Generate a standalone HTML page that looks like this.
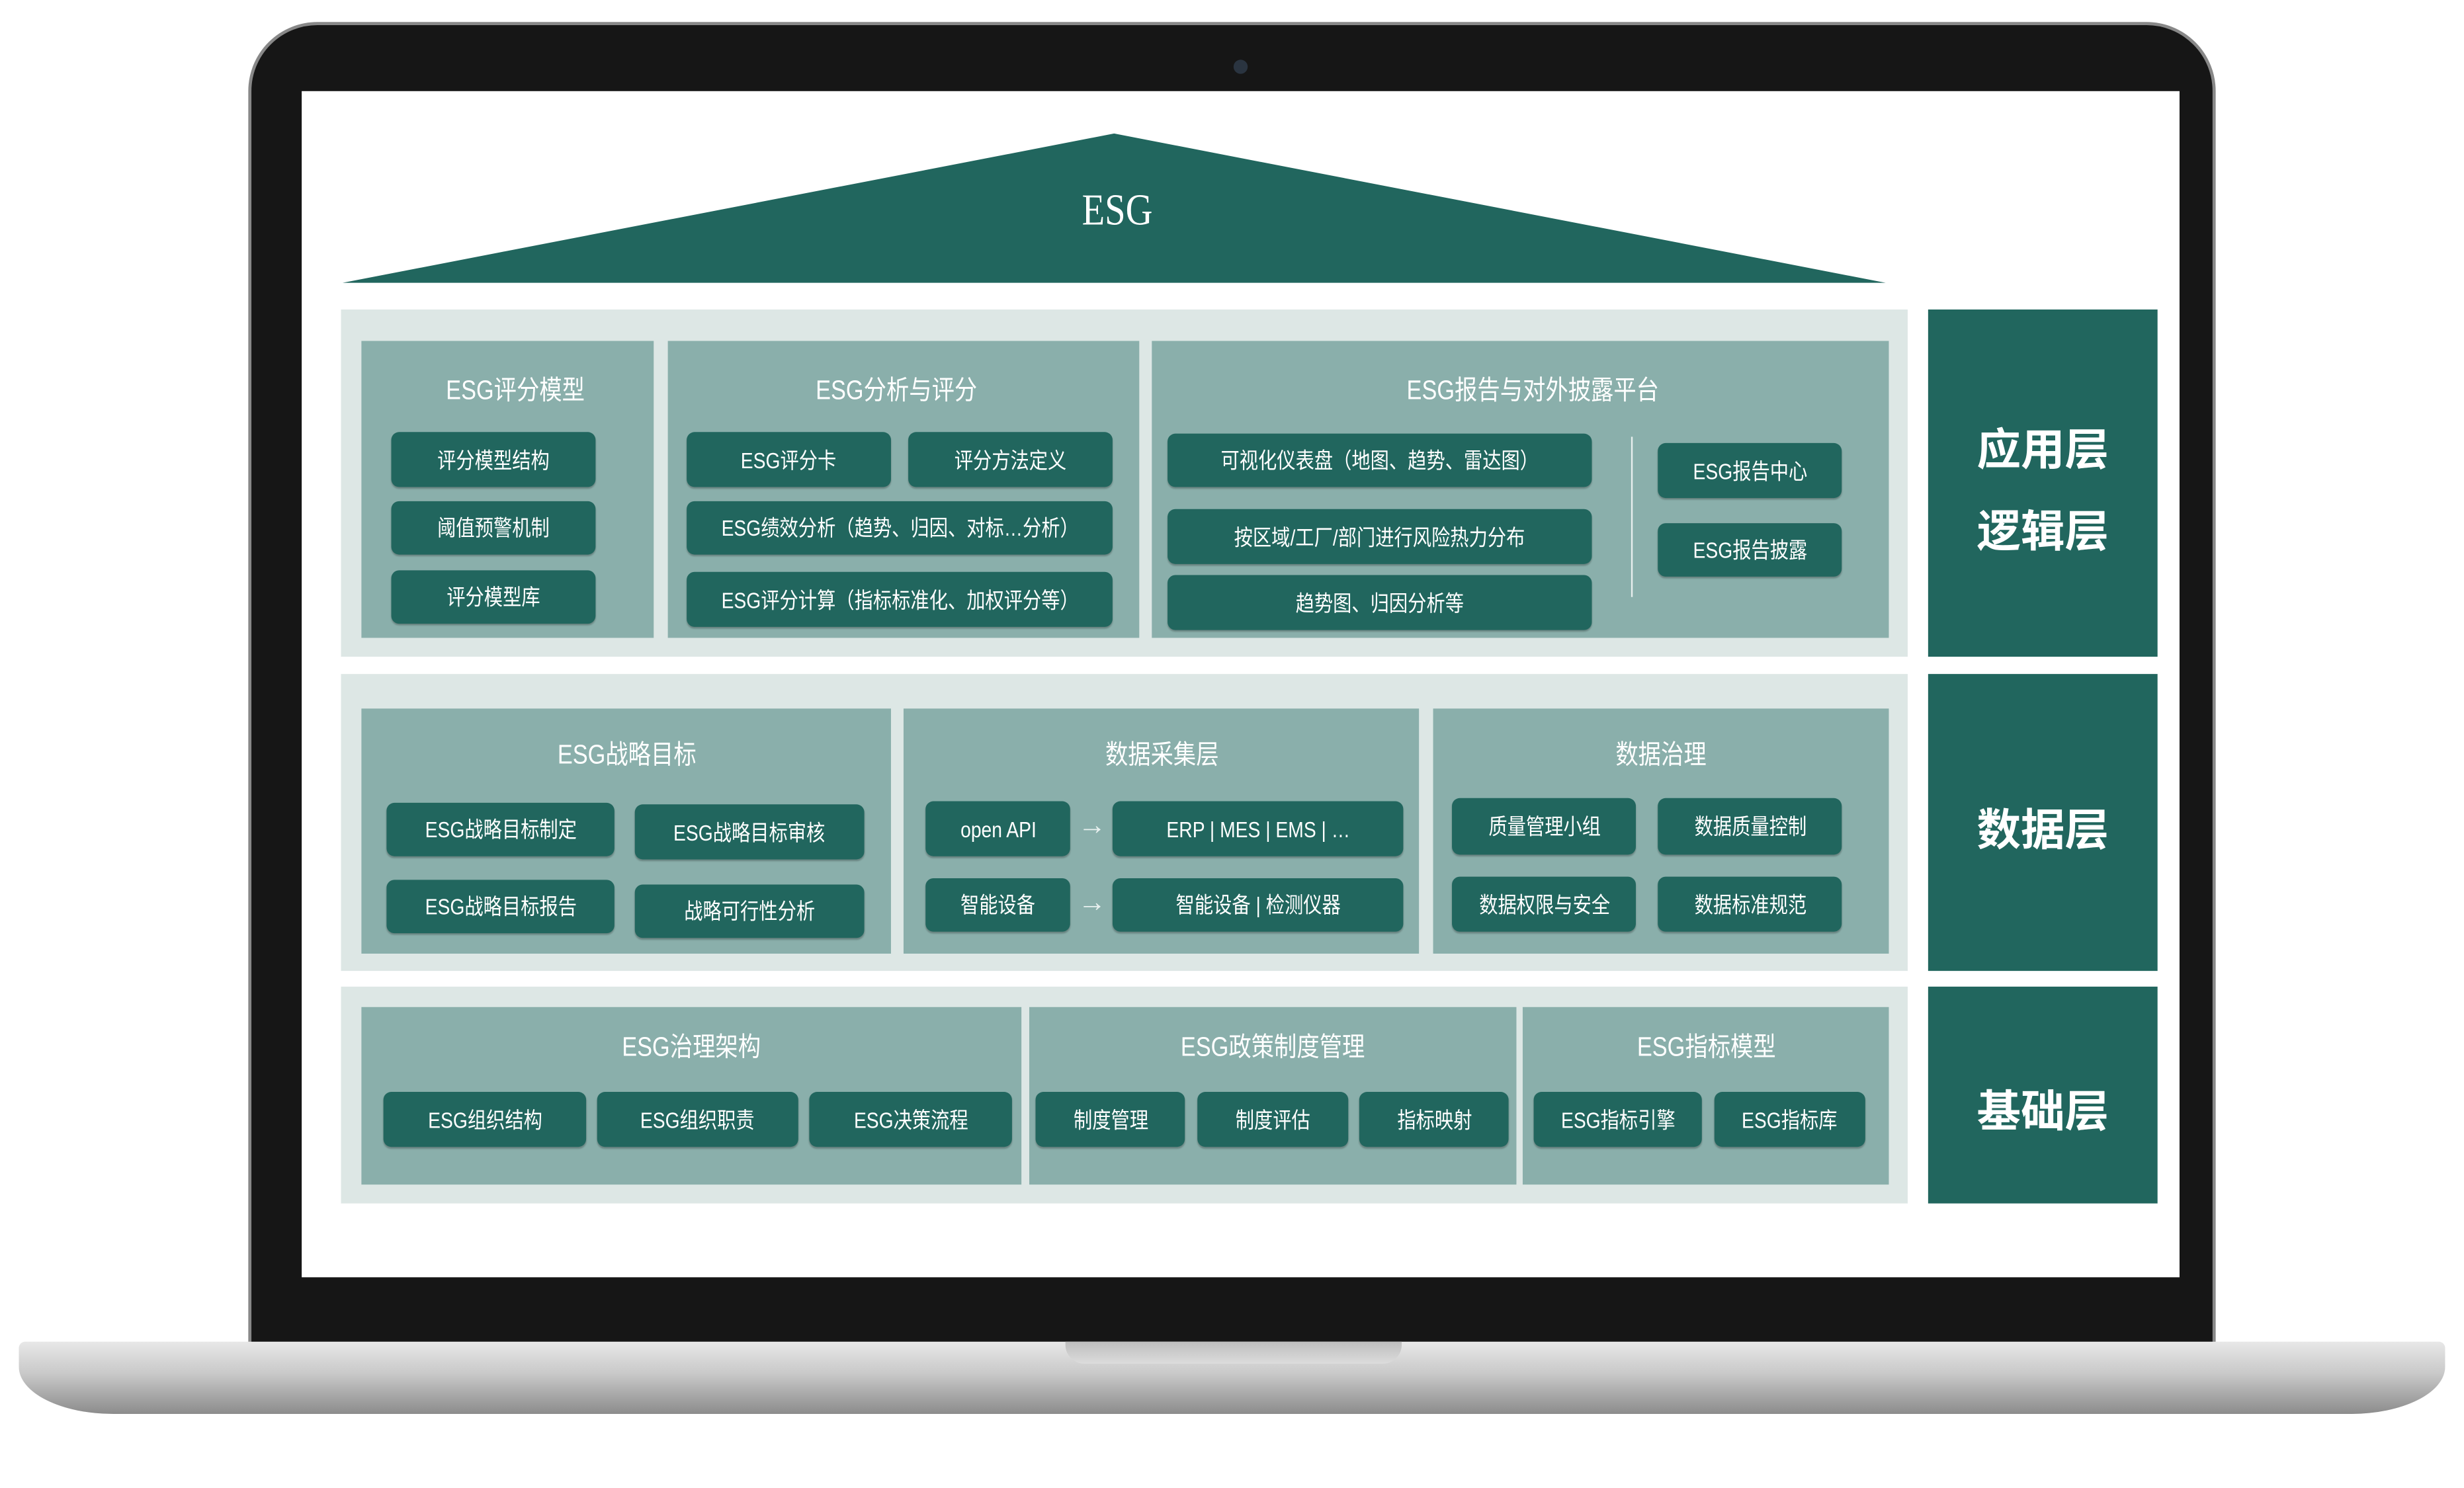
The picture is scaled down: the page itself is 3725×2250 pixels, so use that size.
<!DOCTYPE html>
<html><head><meta charset="utf-8"><style>
html,body{margin:0;padding:0;background:#fff;}
body{width:3725px;height:2250px;overflow:hidden;position:relative;}
#s{position:absolute;left:0;top:0;width:1568px;height:947px;transform:scale(2.3756);transform-origin:0 0;font-family:"Liberation Sans","Noto Sans CJK SC",sans-serif;}
.a{position:absolute;}
.lt{background:#dde7e5;}
.md{background:#8aafab;}
.b{position:absolute;background:#21665e;color:#fff;border-radius:5px;font-size:14px;display:flex;align-items:center;justify-content:center;white-space:nowrap;box-shadow:0 1px 1px rgba(0,0,0,.25);}
.b span,.t span{display:inline-block;transform:scaleX(.85);}
.t{position:absolute;color:#fff;font-size:17px;text-align:center;white-space:nowrap;}
.L{position:absolute;background:#21665e;color:#fff;font-weight:bold;font-size:28px;text-align:center;}
.ar{position:absolute;color:#e8f0ef;font-size:18px;}
</style></head><body><div id="s">
<!-- laptop -->
<div class="a" style="left:158px;top:14px;width:1252px;height:850px;background:#161616;border-radius:44px 44px 0 0;border:2px solid #888;box-sizing:border-box;"></div>
<div class="a" style="left:785px;top:38px;width:9px;height:9px;border-radius:50%;background:#2a3440;"></div>
<div class="a" style="left:12px;top:854px;width:1544px;height:46px;background:linear-gradient(#e8e8e8,#c8c8c8 45%,#8c8c8c);border-radius:4px 4px 60px 60px/4px 4px 30px 30px;"></div>
<div class="a" style="left:678px;top:854px;width:214px;height:14px;background:linear-gradient(#bdbdbd,#dcdcdc);border-radius:0 0 12px 12px;"></div>
<div class="a" style="left:192px;top:58px;width:1195px;height:755px;background:#fff;"></div>
<!-- roof -->
<svg class="a" style="left:0;top:0" width="1568" height="947"><polygon points="709,85 218,180 1200,180" fill="#21665e"/><text x="711" y="143" fill="#fff" font-family="Liberation Serif,serif" font-size="28" text-anchor="middle" transform="translate(711 0) scale(0.85 1) translate(-711 0)">ESG</text></svg>
<!-- row1 -->
<div class="a lt" style="left:217px;top:197px;width:997px;height:221px;"></div>
<div class="a md" style="left:230px;top:217px;width:186px;height:189px;"></div>
<div class="a md" style="left:425px;top:217px;width:300px;height:189px;"></div>
<div class="a md" style="left:733px;top:217px;width:469px;height:189px;"></div>
<div class="t" style="left:230px;width:196px;top:234px;"><span>ESG评分模型</span></div>
<div class="t" style="left:425px;width:290px;top:234px;"><span>ESG分析与评分</span></div>
<div class="t" style="left:733px;width:484px;top:234px;"><span>ESG报告与对外披露平台</span></div>
<div class="b" style="left:249px;top:275px;width:130px;height:35px;"><span>评分模型结构</span></div>
<div class="b" style="left:249px;top:319px;width:130px;height:34px;"><span>阈值预警机制</span></div>
<div class="b" style="left:249px;top:363px;width:130px;height:34px;"><span>评分模型库</span></div>
<div class="b" style="left:437px;top:275px;width:130px;height:35px;"><span>ESG评分卡</span></div>
<div class="b" style="left:578px;top:275px;width:130px;height:35px;"><span>评分方法定义</span></div>
<div class="b" style="left:437px;top:319px;width:271px;height:34px;"><span>ESG绩效分析（趋势、归因、对标…分析）</span></div>
<div class="b" style="left:437px;top:364px;width:271px;height:35px;"><span>ESG评分计算（指标标准化、加权评分等）</span></div>
<div class="b" style="left:743px;top:276px;width:270px;height:34px;"><span>可视化仪表盘（地图、趋势、雷达图）</span></div>
<div class="b" style="left:743px;top:324px;width:270px;height:35px;"><span>按区域/工厂/部门进行风险热力分布</span></div>
<div class="b" style="left:743px;top:366px;width:270px;height:35px;"><span>趋势图、归因分析等</span></div>
<div class="a" style="left:1038px;top:278px;width:1px;height:102px;background:#e8efee;"></div>
<div class="b" style="left:1055px;top:282px;width:117px;height:35px;"><span>ESG报告中心</span></div>
<div class="b" style="left:1055px;top:333px;width:117px;height:34px;"><span>ESG报告披露</span></div>
<div class="L" style="left:1227px;top:197px;width:146px;height:221px;"><div style="position:absolute;top:68px;width:100%;">应用层</div><div style="position:absolute;top:120px;width:100%;">逻辑层</div></div>
<!-- row2 -->
<div class="a lt" style="left:217px;top:429px;width:997px;height:189px;"></div>
<div class="a md" style="left:230px;top:451px;width:337px;height:156px;"></div>
<div class="a md" style="left:575px;top:451px;width:328px;height:156px;"></div>
<div class="a md" style="left:912px;top:451px;width:290px;height:156px;"></div>
<div class="t" style="left:230px;width:337px;top:466px;"><span>ESG战略目标</span></div>
<div class="t" style="left:575px;width:328px;top:466px;"><span>数据采集层</span></div>
<div class="t" style="left:912px;width:290px;top:466px;"><span>数据治理</span></div>
<div class="b" style="left:246px;top:511px;width:145px;height:34px;"><span>ESG战略目标制定</span></div>
<div class="b" style="left:404px;top:512px;width:146px;height:35px;"><span>ESG战略目标审核</span></div>
<div class="b" style="left:246px;top:560px;width:145px;height:34px;"><span>ESG战略目标报告</span></div>
<div class="b" style="left:404px;top:563px;width:146px;height:34px;"><span>战略可行性分析</span></div>
<div class="b" style="left:589px;top:510px;width:92px;height:35px;"><span>open API</span></div>
<div class="ar" style="left:686px;top:515px;">→</div>
<div class="b" style="left:708px;top:510px;width:185px;height:35px;"><span>ERP | MES | EMS | …</span></div>
<div class="b" style="left:589px;top:559px;width:92px;height:34px;"><span>智能设备</span></div>
<div class="ar" style="left:686px;top:564px;">→</div>
<div class="b" style="left:708px;top:559px;width:185px;height:34px;"><span>智能设备 | 检测仪器</span></div>
<div class="b" style="left:924px;top:508px;width:117px;height:36px;"><span>质量管理小组</span></div>
<div class="b" style="left:1055px;top:508px;width:117px;height:36px;"><span>数据质量控制</span></div>
<div class="b" style="left:924px;top:558px;width:117px;height:35px;"><span>数据权限与安全</span></div>
<div class="b" style="left:1055px;top:558px;width:117px;height:35px;"><span>数据标准规范</span></div>
<div class="L" style="left:1227px;top:429px;width:146px;height:189px;"><div style="position:absolute;top:78px;width:100%;">数据层</div></div>
<!-- row3 -->
<div class="a lt" style="left:217px;top:628px;width:997px;height:138px;"></div>
<div class="a md" style="left:230px;top:641px;width:420px;height:113px;"></div>
<div class="a md" style="left:655px;top:641px;width:310px;height:113px;"></div>
<div class="a md" style="left:969px;top:641px;width:233px;height:113px;"></div>
<div class="t" style="left:230px;width:420px;top:652px;"><span>ESG治理架构</span></div>
<div class="t" style="left:655px;width:310px;top:652px;"><span>ESG政策制度管理</span></div>
<div class="t" style="left:969px;width:233px;top:652px;"><span>ESG指标模型</span></div>
<div class="b" style="left:244px;top:695px;width:129px;height:35px;"><span>ESG组织结构</span></div>
<div class="b" style="left:380px;top:695px;width:128px;height:35px;"><span>ESG组织职责</span></div>
<div class="b" style="left:515px;top:695px;width:129px;height:35px;"><span>ESG决策流程</span></div>
<div class="b" style="left:659px;top:695px;width:95px;height:35px;"><span>制度管理</span></div>
<div class="b" style="left:762px;top:695px;width:96px;height:35px;"><span>制度评估</span></div>
<div class="b" style="left:865px;top:695px;width:95px;height:35px;"><span>指标映射</span></div>
<div class="b" style="left:976px;top:695px;width:107px;height:35px;"><span>ESG指标引擎</span></div>
<div class="b" style="left:1091px;top:695px;width:96px;height:35px;"><span>ESG指标库</span></div>
<div class="L" style="left:1227px;top:628px;width:146px;height:138px;"><div style="position:absolute;top:58px;width:100%;">基础层</div></div>
</div></body></html>
